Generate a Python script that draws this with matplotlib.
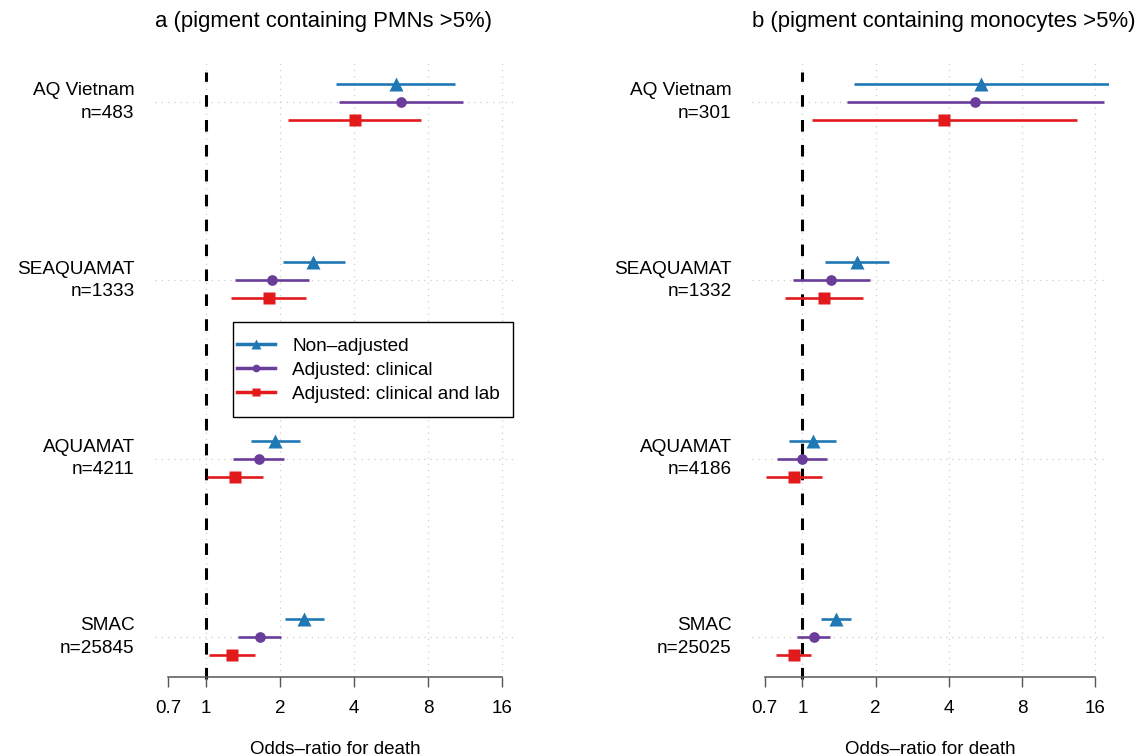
import numpy as np
import matplotlib
matplotlib.use("Agg")
import matplotlib.pyplot as plt
from matplotlib.lines import Line2D
from matplotlib.patches import Rectangle
import matplotlib.transforms as mtransforms

plt.rcParams['font.family'] = ['Liberation Sans', 'DejaVu Sans']

# ---------------- data ----------------
studies = ["AQ Vietnam", "SEAQUAMAT", "AQUAMAT", "SMAC"]
n_a = [483, 1333, 4211, 25845]
n_b = [301, 1332, 4186, 25025]
series_labels = ["Non\u2013adjusted", "Adjusted: clinical", "Adjusted: clinical and lab"]
titles = ["a (pigment containing PMNs >5%)", "b (pigment containing monocytes >5%)"]
tick_values = [0.7, 1, 2, 4, 8, 16]
tick_labels = ["0.7", "1", "2", "4", "8", "16"]
xlabel = "Odds\u2013ratio for death"

# panel a (PMNs)
a_nonadj_or = [5.93, 2.73, 1.91, 2.51]
a_nonadj_lo = [3.38, 2.05, 1.53, 2.10]
a_nonadj_hi = [10.3, 3.69, 2.40, 3.03]
a_clin_or = [6.21, 1.86, 1.64, 1.65]
a_clin_lo = [3.49, 1.31, 1.29, 1.35]
a_clin_hi = [11.07, 2.63, 2.07, 2.02]
a_lab_or = [4.04, 1.80, 1.31, 1.28]
a_lab_lo = [2.16, 1.26, 1.006, 1.03]
a_lab_hi = [7.47, 2.55, 1.71, 1.58]

# panel b (monocytes)
b_nonadj_or = [5.44, 1.68, 1.10, 1.37]
b_nonadj_lo = [1.63, 1.24, 0.884, 1.19]
b_nonadj_hi = [18.5, 2.27, 1.37, 1.59]
b_clin_or = [5.13, 1.31, 0.993, 1.11]
b_clin_lo = [1.52, 0.913, 0.788, 0.95]
b_clin_hi = [17.3, 1.89, 1.26, 1.30]
b_lab_or = [3.82, 1.22, 0.92, 0.92]
b_lab_lo = [1.09, 0.846, 0.711, 0.78]
b_lab_hi = [13.4, 1.77, 1.20, 1.08]

colors = ["#1f78b4", "#6a3d9a", "#e31a1c"]
markers = ["^", "o", "s"]
msizes = [10, 7.7, 8.6]
offsets = [0.101, 0.0, -0.101]

# ---------------- figure ----------------
W, H = 1137, 756
fig = plt.figure(figsize=(W / 100, H / 100), dpi=100)

def fx(px):
    return px / W

def fy(py):
    return 1 - py / H

ax_a = fig.add_axes([fx(154.6), fy(677), 360.8 / W, 614 / H])
ax_b = fig.add_axes([fx(751.6), fy(677), 357.0 / W, 614 / H])

panels = [
    (ax_a, n_a, [(a_nonadj_or, a_nonadj_lo, a_nonadj_hi),
                 (a_clin_or, a_clin_lo, a_clin_hi),
                 (a_lab_or, a_lab_lo, a_lab_hi)]),
    (ax_b, n_b, [(b_nonadj_or, b_nonadj_lo, b_nonadj_hi),
                 (b_clin_or, b_clin_lo, b_clin_hi),
                 (b_lab_or, b_lab_lo, b_lab_hi)]),
]

ypos = np.arange(len(studies))[::-1] + 1.0
xlim = (2 ** -0.695, 2 ** 4.18)
ylim = (0.775, 4.219)
grid_col = "#cfcfcf"

for k, (ax, ns, series) in enumerate(panels):
    ax.set_xscale("log", base=2)
    ax.set_xlim(*xlim)
    ax.set_ylim(*ylim)
    for s in ["top", "right", "left"]:
        ax.spines[s].set_visible(False)
    ax.spines["bottom"].set_bounds(tick_values[0], tick_values[-1])
    ax.spines["bottom"].set_color("#555555")
    ax.spines["bottom"].set_linewidth(1.1)
    ax.set_xticks(tick_values)
    ax.set_xticklabels(tick_labels, fontsize=13.5)
    ax.xaxis.set_minor_locator(matplotlib.ticker.NullLocator())
    ax.tick_params(axis="x", direction="out", length=7.5, width=1.0,
                   color="#555555", pad=9)
    ax.set_yticks([])
    ax.set_xlabel(xlabel, fontsize=13.5, labelpad=17)

    # grid lines
    for tv in tick_values[1:]:
        ax.axvline(tv, color=grid_col, lw=0.9, ls=(0, (1, 4)), zorder=0)
    for yp in ypos:
        ax.axhline(yp, color=grid_col, lw=0.9, ls=(0, (1, 4)), zorder=0)

    # reference line at OR = 1
    ax.plot([1, 1], [ylim[0] - 0.014, ylim[1] - 0.05], color="black", lw=2.2,
            dashes=(3.8, 4.35), zorder=1, dash_capstyle="butt", clip_on=False)

    # estimates with CIs
    for j, (orv, lo, hi) in enumerate(series):
        orv = np.asarray(orv)
        lo = np.asarray(lo)
        hi = np.asarray(hi)
        yy = ypos + offsets[j]
        ax.hlines(yy, lo, hi, color=colors[j], lw=1.9, zorder=3)
        ax.plot(orv, yy, ls="none", marker=markers[j], ms=msizes[j],
                color=colors[j], mec="none", zorder=4)

    # study labels
    trans = mtransforms.blended_transform_factory(ax.transAxes, ax.transData)
    trans = trans + mtransforms.ScaledTranslation(-20 / 100, 0, fig.dpi_scale_trans)
    for yp, name, n in zip(ypos, studies, ns):
        ax.text(0, yp, f"{name}\nn={n}", transform=trans, ha="right",
                va="center", multialignment="right", fontsize=13.7,
                linespacing=1.42)

    # title
    ax.text(0, 1, titles[k], transform=ax.transAxes + mtransforms.ScaledTranslation(
        0, 41 / 100, fig.dpi_scale_trans), ha="left", va="center", fontsize=15.9)

# legend (panel a)
handles = [Line2D([], [], color=colors[j], lw=2.5, marker=markers[j],
                  ms=[7, 5.5, 6][j], mec="none") for j in range(3)]
ax_a.add_patch(Rectangle((fx(232.7), fy(417.3)), fx(513.3) - fx(232.7),
                         fy(322.3) - fy(417.3), transform=fig.transFigure,
                         fill=True, facecolor="white", edgecolor="black",
                         lw=1.0, zorder=5, clip_on=False))
leg = ax_a.legend(handles, series_labels, loc="upper left",
                  bbox_to_anchor=(fx(236.7), fy(337.5)),
                  bbox_transform=fig.transFigure, frameon=False,
                  fontsize=13.7, handlelength=2.0, handletextpad=0.93,
                  labelspacing=0.36, borderpad=0, borderaxespad=0)
leg.set_zorder(6)

fig.savefig("out.png", dpi=100)
